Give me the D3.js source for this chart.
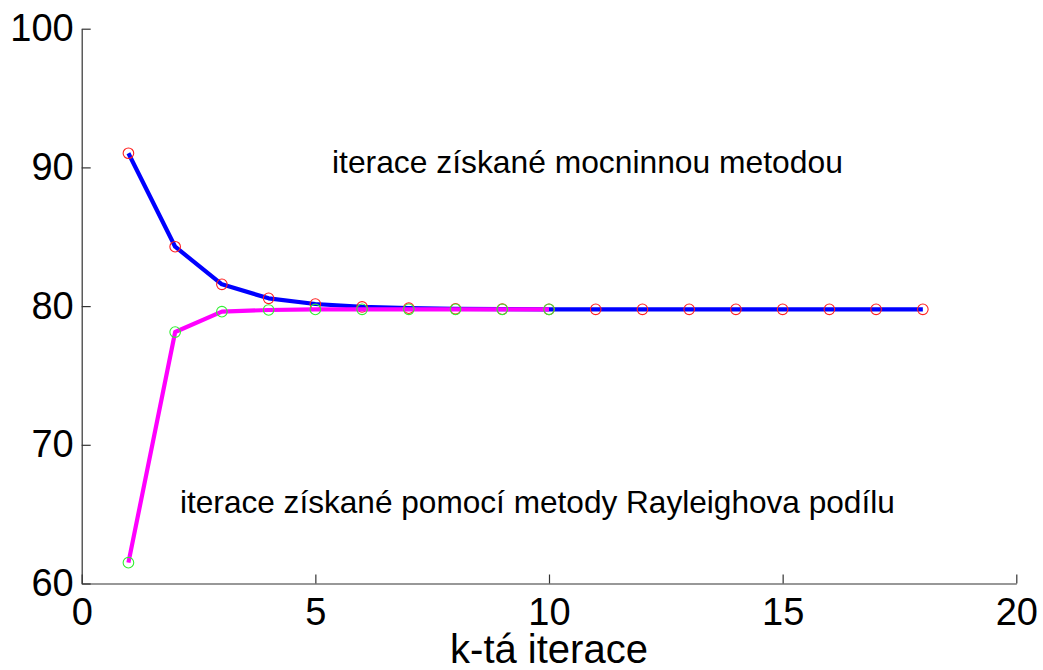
<!DOCTYPE html>
<html>
<head>
<meta charset="utf-8">
<script src="https://cdn.jsdelivr.net/npm/d3@7"></script>
<style>
  html, body { margin: 0; padding: 0; background: #fff; }
  svg { display: block; font-family: "Liberation Sans", Arial, Helvetica, sans-serif; }
</style>
</head>
<body>
<svg id="chart" width="1043" height="670"></svg>
<script>
// Iterations of the dominant eigenvalue estimate
const powerK = [1, 2, 3, 4, 5, 6, 7, 8, 9, 10, 11, 12, 13, 14, 15, 16, 17, 18];
const powerValues = [91.02, 84.28, 81.57, 80.56, 80.15, 79.94, 79.85, 79.80, 79.78, 79.77,
                     79.77, 79.77, 79.77, 79.77, 79.77, 79.77, 79.77, 79.77];
const rayleighK = [1, 2, 3, 4, 5, 6, 7, 8, 9, 10];
const rayleighValues = [61.5, 78.13, 79.6, 79.72, 79.76, 79.77, 79.77, 79.77, 79.77, 79.77];

const xTicks = [0, 5, 10, 15, 20];
const yTicks = [60, 70, 80, 90, 100];
const xLabel = "k-tá iterace";
const powerLabel = "iterace získané mocninnou metodou";
const rayleighLabel = "iterace získané pomocí metody Rayleighova podílu";

const svg = d3.select("#chart");
const plotLeft = 81.7, plotRight = 1016.3, plotTop = 28.7, plotBottom = 583.5;

const x = d3.scaleLinear().domain([0, 20]).range([plotLeft, plotRight]);
const y = d3.scaleLinear().domain([60, 100]).range([plotBottom, plotTop]);

// axes with inward ticks
const axisColor = "#333";
const gx = svg.append("g")
  .attr("transform", `translate(0,${plotBottom})`)
  .call(d3.axisBottom(x).tickValues(xTicks).tickFormat(d3.format("d"))
        .tickSizeInner(-9).tickSizeOuter(0).tickPadding(14.5));
const gy = svg.append("g")
  .attr("transform", `translate(${plotLeft},0)`)
  .call(d3.axisLeft(y).tickValues(yTicks).tickFormat(d3.format("d"))
        .tickSizeInner(-9).tickSizeOuter(0).tickPadding(8));

[gx, gy].forEach(g => {
  g.select(".domain").attr("stroke", axisColor).attr("stroke-width", 1.2);
  g.selectAll(".tick line").attr("stroke", axisColor).attr("stroke-width", 1.2);
  g.selectAll(".tick text")
    .attr("fill", "#000")
    .style("font-size", "38px")
    .style("font-family", "'Liberation Sans', Arial, sans-serif");
});

const line = d3.line().x(d => x(d[0])).y(d => y(d[1]));
const powerData = powerK.map((k, i) => [k, powerValues[i]]);
const rayleighData = rayleighK.map((k, i) => [k, rayleighValues[i]]);

// power method series
svg.append("path").datum(powerData)
  .attr("d", line).attr("fill", "none")
  .attr("stroke", "#0000ff").attr("stroke-width", 4.2)
  .attr("stroke-linejoin", "round");
svg.append("g").selectAll("circle").data(powerData).join("circle")
  .attr("cx", d => x(d[0])).attr("cy", d => y(d[1])).attr("r", 5.3)
  .attr("fill", "none").attr("stroke", "#ff2020").attr("stroke-width", 1.1);

// Rayleigh quotient series
svg.append("path").datum(rayleighData)
  .attr("d", line).attr("fill", "none")
  .attr("stroke", "#ff00ff").attr("stroke-width", 4.2)
  .attr("stroke-linejoin", "round");
svg.append("g").selectAll("circle").data(rayleighData).join("circle")
  .attr("cx", d => x(d[0])).attr("cy", d => y(d[1])).attr("r", 5.3)
  .attr("fill", "none").attr("stroke", "#33ee33").attr("stroke-width", 1.1);

// annotations
svg.append("text").attr("x", 332).attr("y", 173)
  .style("font-size", "31.8px").attr("fill", "#000").text(powerLabel);
svg.append("text").attr("x", 180).attr("y", 513)
  .style("font-size", "31.6px").attr("fill", "#000").text(rayleighLabel);

// x axis title
svg.append("text").attr("x", (plotLeft + plotRight) / 2).attr("y", 663)
  .attr("text-anchor", "middle")
  .style("font-size", "40px").attr("fill", "#000").text(xLabel);
</script>
</body>
</html>
